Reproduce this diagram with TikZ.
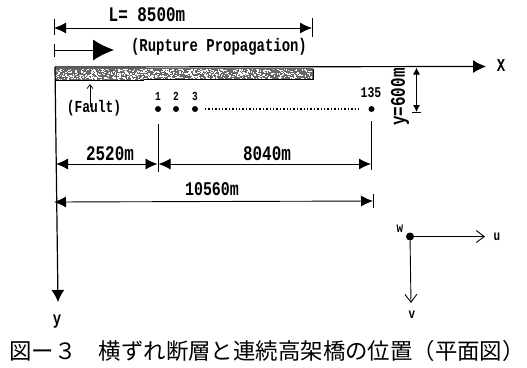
\documentclass[tikz,border=0pt]{standalone}
\usepackage{fontspec}
\setmainfont{Liberation Mono}[BoldFont={Liberation Mono Bold}]
\newfontfamily\cjk{Noto Sans CJK JP}
\usetikzlibrary{arrows.meta}
\newcommand{\tallbox}[1]{\scalebox{1}[1.3]{#1}}
\tikzset{
  x=1bp,y=-1bp,
  ln/.style={line width=0.9bp,black},
  dim/.style={ln,{Latex[length=12bp,width=11bp]}-{Latex[length=12bp,width=11bp]}},
  lab/.style={font=\bfseries\fontsize{14}{15}\selectfont,inner sep=0pt,black},
  big/.style={font=\bfseries\fontsize{16}{17}\selectfont,inner sep=0pt,black},
  sm/.style={font=\bfseries\fontsize{9.5}{10}\selectfont,inner sep=0pt,black},
  captext/.style={font=\cjk\fontsize{22.5}{25}\selectfont,inner sep=0pt,anchor=west,black},
  pt/.style={circle,fill=black,inner sep=0pt,minimum size=6bp},
}
\begin{document}
\begin{tikzpicture}
\useasboundingbox (0,0) rectangle (527,367);
% fault band
\fill[black!60] (55,68) rectangle (313,80);
\pgfmathsetseed{7}
\foreach \i in {1,...,800}{
  \pgfmathsetmacro\px{55.5+256*rnd}
  \pgfmathsetmacro\py{68.5+10.5*rnd}
  \fill[white] (\px,\py) rectangle ++(1.4,1.2);
}
\draw[ln] (55,80) -- (144,80);
\draw[ln] (144,79.5) -- (313,79.5) -- (313,69);
% coordinates
\coordinate (O) at (55,67);
\coordinate (Xe) at (486,66.5);
\coordinate (Ye) at (58,302);
\draw[ln,line width=1.2bp,-{Latex[length=13bp,width=13bp]}] (O) -- (Xe);
\draw[ln,line width=1.2bp,-{Latex[length=12bp,width=13bp]}] (O) -- (Ye);
\node[lab] (xl) at (501,66) {\tallbox{X}};
\node[lab] (yl) at (57,322) {\tallbox{y}};
% L
\coordinate (La) at (54,28); \coordinate (Lb) at (312,28);
\draw[ln] (54,19) -- (54,35);
\draw[ln] (312,18) -- (312,37);
\draw[dim] (La) -- (Lb);
\node[big] (L) at (147,15) {\tallbox{L= 8500m}};
% rupture
\coordinate (Ra) at (54,50); \coordinate (Rb) at (114,50);
\draw[ln] (54,44) -- (54,57);
\draw[ln,-{Latex[length=21bp,width=21bp]}] (Ra) -- (Rb);
\node[lab] (rp) at (219,47) {\tallbox{(Rupture Propagation)}};
% fault label
\node[lab,font=\bfseries\fontsize{13}{14}\selectfont] (fl) at (94,108.5) {\tallbox{(Fault)}};
\coordinate (Fa) at (90,107);
\coordinate (Fb) at (90,84);
\draw[line width=0.7bp,-{Straight Barb[length=4bp,width=6bp]}] (Fa) -- (Fb);
% stations
\node[pt] (p1) at (158,109) {};
\node[pt] (p2) at (176,109) {};
\node[pt] (p3) at (195,109) {};
\node[pt] (p135) at (371.5,109) {};
\node[sm] (n1) at (158,96) {\tallbox{1}};
\node[sm] (n2) at (176,96) {\tallbox{2}};
\node[sm] (n3) at (195,96) {\tallbox{3}};
\node[sm,font=\bfseries\fontsize{11.5}{12}\selectfont] (n135) at (371,92.5) {\tallbox{135}};
\coordinate (da) at (205,109); \coordinate (db) at (359,109);
\draw[line width=1.4bp,dash pattern=on 1.3bp off 2.1bp] (da) -- (db);
% dimension ticks
\draw[ln] (158,124) -- (158,172);
\draw[ln] (371.5,121) -- (371.5,170);
\coordinate (a1) at (56,164); \coordinate (a2) at (157.5,164);
\coordinate (a3) at (158.5,164); \coordinate (a4) at (371,164);
\draw[dim] (a1) -- (a2);
\draw[dim] (a3) -- (a4);
\node[big] (d1) at (110,154) {\tallbox{2520m}};
\node[big] (d2) at (267,154) {\tallbox{8040m}};
\draw[ln] (373,194) -- (373,208);
\coordinate (b1) at (54,202); \coordinate (b2) at (373,201);
\draw[dim] (b1) -- (b2);
\node[big,font=\bfseries\fontsize{15}{16}\selectfont] (d3) at (212,189) {\tallbox{10560m}};
% y=600m
\node[big,rotate=90] (y6) at (400,97) {\tallbox{y=600m}};
\coordinate (c1) at (416.5,67.5); \coordinate (c2) at (416.5,112);
\draw[ln,{Latex[length=7bp,width=7bp]}-{Latex[length=7bp,width=7bp]}] (c1) -- (c2);
\draw[ln] (412,112.5) -- (421,112.5);
% local axes
\node[pt,minimum size=8bp] (w) at (410,236.5) {};
\coordinate (ue) at (485,236.5);
\coordinate (ve) at (411,303);
\draw[ln,-{Straight Barb[length=8bp,width=12bp]}] (w) -- (ue);
\draw[ln,-{Straight Barb[length=8bp,width=12bp]}] (w) -- (ve);
\node[sm,font=\bfseries\fontsize{11}{12}\selectfont] (wl) at (400,229) {\tallbox{w}};
\node[sm,font=\bfseries\fontsize{11}{12}\selectfont] (ul) at (497,237) {\tallbox{u}};
\node[sm,font=\bfseries\fontsize{11}{12}\selectfont] (vl) at (412,315) {\tallbox{v}};
% caption
\node[captext] (captionnode) at (9,351) {図ー３　横ずれ断層と連続高架橋の位置（平面図）};
\end{tikzpicture}
\end{document}
